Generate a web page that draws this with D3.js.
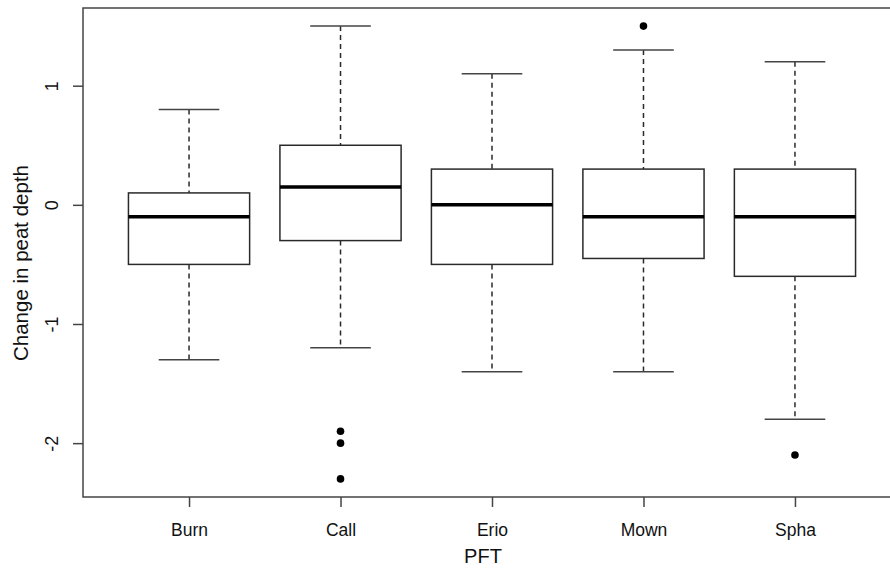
<!DOCTYPE html>
<html><head><meta charset="utf-8">
<script src="https://cdn.jsdelivr.net/npm/d3@7"></script>
<style>body{margin:0;background:#fff}svg{display:block}text{font-family:"Liberation Sans",Arial,sans-serif;fill:#111}</style>
</head><body>
<script>
const categories = ["Burn","Call","Erio","Mown","Spha"];
const whiskerHigh = [0.8, 1.5, 1.1, 1.3, 1.2];
const q3 = [0.1, 0.5, 0.3, 0.3, 0.3];
const median = [-0.1, 0.15, 0.0, -0.1, -0.1];
const q1 = [-0.5, -0.3, -0.5, -0.45, -0.6];
const whiskerLow = [-1.3, -1.2, -1.4, -1.4, -1.8];
const outliers = [[], [-1.9, -2.0, -2.3], [], [1.5], [-2.1]];
const yTicks = [-2, -1, 0, 1];
const xLabel = "PFT";
const yLabel = "Change in peat depth";

const W = 890, H = 568;
const svg = d3.select("body").append("svg").attr("width", W).attr("height", H);

// R-like: category positions 1..5, xlim 0.3..5.7
const x = d3.scaleLinear().domain([0.3, 5.7]).range([83, 901]);
const y = d3.scaleLinear().domain([-2.452, 1.652]).range([497, 8]);
const stroke = "#2a2a2a";
const spacing = x(2) - x(1);
const boxW = spacing * 0.8, capW = spacing * 0.4;

// frame
svg.append("rect").attr("x", x(0.3)).attr("y", y(1.652))
  .attr("width", x(5.7) - x(0.3)).attr("height", y(-2.452) - y(1.652))
  .attr("fill", "none").attr("stroke", "#444").attr("stroke-width", 1.5);

// y axis
const yAxis = svg.append("g").attr("transform", `translate(${x(0.3)},0)`)
  .call(d3.axisLeft(y).tickValues(yTicks).tickSize(10).tickFormat(d => String(d)));
yAxis.select(".domain").remove();
yAxis.selectAll(".tick line").attr("stroke", "#444").attr("stroke-width", 1.5);
yAxis.selectAll(".tick text").attr("x", 0).attr("dy", null)
  .attr("transform", "translate(-31,0) rotate(-90)")
  .attr("text-anchor", "middle").attr("dominant-baseline", "central")
  .style("font-size", "18px").style("font-family", '"Liberation Sans",Arial,sans-serif').attr("fill", "#111");

// x axis
const xAxis = svg.append("g").attr("transform", `translate(0,${y(-2.452)})`)
  .call(d3.axisBottom(x).tickValues([1,2,3,4,5]).tickSize(10).tickFormat(d => categories[d-1]));
xAxis.select(".domain").remove();
xAxis.selectAll(".tick line").attr("stroke", "#444").attr("stroke-width", 1.5);
xAxis.selectAll(".tick text").attr("y", 0).attr("dy", null)
  .attr("transform", "translate(0,39)")
  .style("font-size", "17.5px").style("font-family", '"Liberation Sans",Arial,sans-serif').attr("fill", "#111");

// boxes
const data = categories.map((c, i) => ({i: i + 1, hi: whiskerHigh[i], q3: q3[i], med: median[i], q1: q1[i], lo: whiskerLow[i], out: outliers[i]}));
const g = svg.selectAll(".box").data(data).join("g").attr("class", "box");

g.append("line").attr("x1", d => x(d.i)).attr("x2", d => x(d.i))
  .attr("y1", d => y(d.hi)).attr("y2", d => y(d.q3))
  .attr("stroke", stroke).attr("stroke-width", 1.5).attr("stroke-dasharray", "5,4");
g.append("line").attr("x1", d => x(d.i)).attr("x2", d => x(d.i))
  .attr("y1", d => y(d.q1)).attr("y2", d => y(d.lo))
  .attr("stroke", stroke).attr("stroke-width", 1.5).attr("stroke-dasharray", "5,4");
g.append("line").attr("x1", d => x(d.i) - capW/2).attr("x2", d => x(d.i) + capW/2)
  .attr("y1", d => y(d.hi)).attr("y2", d => y(d.hi))
  .attr("stroke", "#444").attr("stroke-width", 1.5);
g.append("line").attr("x1", d => x(d.i) - capW/2).attr("x2", d => x(d.i) + capW/2)
  .attr("y1", d => y(d.lo)).attr("y2", d => y(d.lo))
  .attr("stroke", "#444").attr("stroke-width", 1.5);
g.append("rect").attr("x", d => x(d.i) - boxW/2).attr("width", boxW)
  .attr("y", d => y(d.q3)).attr("height", d => y(d.q1) - y(d.q3))
  .attr("fill", "#fff").attr("stroke", stroke).attr("stroke-width", 1.5);
g.append("line").attr("x1", d => x(d.i) - boxW/2).attr("x2", d => x(d.i) + boxW/2)
  .attr("y1", d => y(d.med)).attr("y2", d => y(d.med))
  .attr("stroke", "#000").attr("stroke-width", 3.5);
g.selectAll("circle").data(d => d.out.map(v => ({i: d.i, v}))).join("circle")
  .attr("cx", d => x(d.i)).attr("cy", d => y(d.v)).attr("r", 3.8).attr("fill", "#000");

// axis titles
svg.append("text").attr("x", (x(0.3) + 901) / 2 - 9).attr("y", 563)
  .attr("text-anchor", "middle").style("font-size", "20px").text(xLabel);
svg.append("text").attr("transform", `translate(20,263) rotate(-90)`)
  .attr("text-anchor", "middle").attr("dominant-baseline", "central")
  .style("font-size", "20.5px").text(yLabel);
</script>
</body></html>
